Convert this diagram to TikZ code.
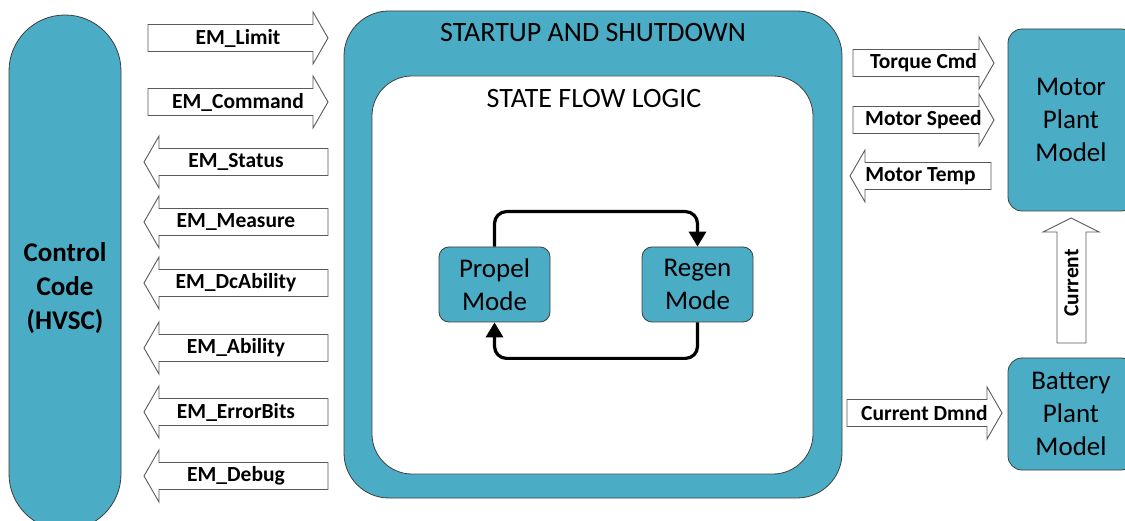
\documentclass[tikz,border=0pt]{standalone}
\usepackage{fontspec}
\setmainfont{Carlito}
\usetikzlibrary{arrows.meta}

\definecolor{teal}{HTML}{4BACC6}
\definecolor{edge}{HTML}{3F3F3F}
\definecolor{arrowedge}{HTML}{5A5A5A}

\tikzset{
  tealbox/.style={draw=edge, line width=0.8pt, fill=teal, inner sep=0pt},
  bigtext/.style={font=\fontsize{27}{33}\selectfont, align=center, inner sep=0pt},
  titletext/.style={font=\fontsize{28}{33}\selectfont, align=center, inner sep=0pt},
  bigbold/.style={font=\bfseries\fontsize{27}{34}\selectfont, align=center, inner sep=0pt},
  lbl/.style={font=\bfseries\fontsize{21.5}{25}\selectfont, inner sep=0pt},
  blockarrow/.style={draw=arrowedge, line width=0.9pt, fill=white, line join=miter},
  flow/.style={line width=3.2pt, rounded corners=12pt, -{Triangle[length=15pt,width=17pt]}}
}

% block arrow pointing right: name, tail x, tip x, centre y, label
\newcommand{\arrowright}[5]{%
  \draw[blockarrow] (#2,#4-13.5) -- (#3-15,#4-13.5) -- (#3-15,#4-26) -- (#3,#4)
    -- (#3-15,#4+26) -- (#3-15,#4+13.5) -- (#2,#4+13.5) -- cycle;
  \node[lbl] (#1) at ({(#2+#3)/2},#4) {#5};}
% block arrow pointing left: name, tip x, tail x, centre y, label
\newcommand{\arrowleft}[5]{%
  \draw[blockarrow] (#3,#4-13.5) -- (#2+15,#4-13.5) -- (#2+15,#4-26) -- (#2,#4)
    -- (#2+15,#4+26) -- (#2+15,#4+13.5) -- (#3,#4+13.5) -- cycle;
  \node[lbl] (#1) at ({(#2+#3)/2},#4) {#5};}

\begin{document}
\begin{tikzpicture}[x=1pt,y=-1pt]
\useasboundingbox (0,0) rectangle (1125,521);
\clip (0,0) rectangle (1125,521);
\fill[white] (0,0) rectangle (1125,521);

% control code column
\node[tealbox, rounded corners=56pt, minimum width=112pt, minimum height=515pt]
  (ctrl) at (65,272.5) {};
\node[bigbold] (ctrltext) at (65,288) {Control\\Code\\(HVSC)};

% startup / shutdown frame and state flow area
\node[tealbox, rounded corners=45pt, minimum width=498pt, minimum height=487pt]
  (startup) at (593,254.5) {};
\node[draw=edge, line width=0.8pt, fill=white, rounded corners=40pt,
  minimum width=441pt, minimum height=398pt, inner sep=0pt] (flowarea) at (592.5,275) {};
\node[titletext] (startuptitle) at (593,33) {STARTUP AND SHUTDOWN};
\node[titletext] (flowtitle) at (594,99) {STATE FLOW LOGIC};

% modes
\node[tealbox, rounded corners=10pt, minimum width=111pt, minimum height=75pt,
  bigtext] (propel) at (494.5,284.5) {Propel\\Mode};
\node[tealbox, rounded corners=10pt, minimum width=111pt, minimum height=75pt,
  bigtext] (regen) at (697.5,284.5) {Regen\\Mode};
\draw[flow] (propel.north) -- ++(0,-35) -| (regen.north);
\draw[flow] (regen.south) -- ++(0,36) -| (propel.south);

% plant models
\node[tealbox, rounded corners=14pt, minimum width=127pt, minimum height=182pt]
  (motor) at (1071.5,120) {};
\node[bigtext] (motortext) at (1071,120) {Motor\\Plant\\Model};
\node[tealbox, rounded corners=14pt, minimum width=127pt, minimum height=112pt]
  (battery) at (1071.5,414) {};
\node[bigtext] (batterytext) at (1071,414) {Battery\\Plant\\Model};

% signals between control code and startup logic
\arrowright{limit}{148}{328}{38}{EM\_Limit}
\arrowright{command}{148}{328}{102}{EM\_Command}
\arrowleft{status}{144}{328}{162}{EM\_Status}
\arrowleft{measure}{144}{328}{222}{EM\_Measure}
\arrowleft{dcability}{144}{328}{283}{EM\_DcAbility}
\arrowleft{ability}{144}{328}{348}{EM\_Ability}
\arrowleft{errorbits}{144}{328}{412}{EM\_ErrorBits}
\arrowleft{debug}{144}{328}{476}{EM\_Debug}

% signals to and from the plant models
\arrowright{torque}{853}{994}{63}{Torque Cmd}
\arrowright{speed}{853}{994}{120}{Motor Speed}
\arrowleft{temp}{850}{991}{176}{Motor Temp}
\arrowright{dmnd}{847}{1002}{413}{Current Dmnd}

% current from battery to motor
\draw[blockarrow] (1057,343) -- (1057,232) -- (1043,232) -- (1071,218)
  -- (1099,232) -- (1086,232) -- (1086,343) -- cycle;
\node[lbl, rotate=90] (current) at (1071.5,283) {Current};
\end{tikzpicture}
\end{document}
